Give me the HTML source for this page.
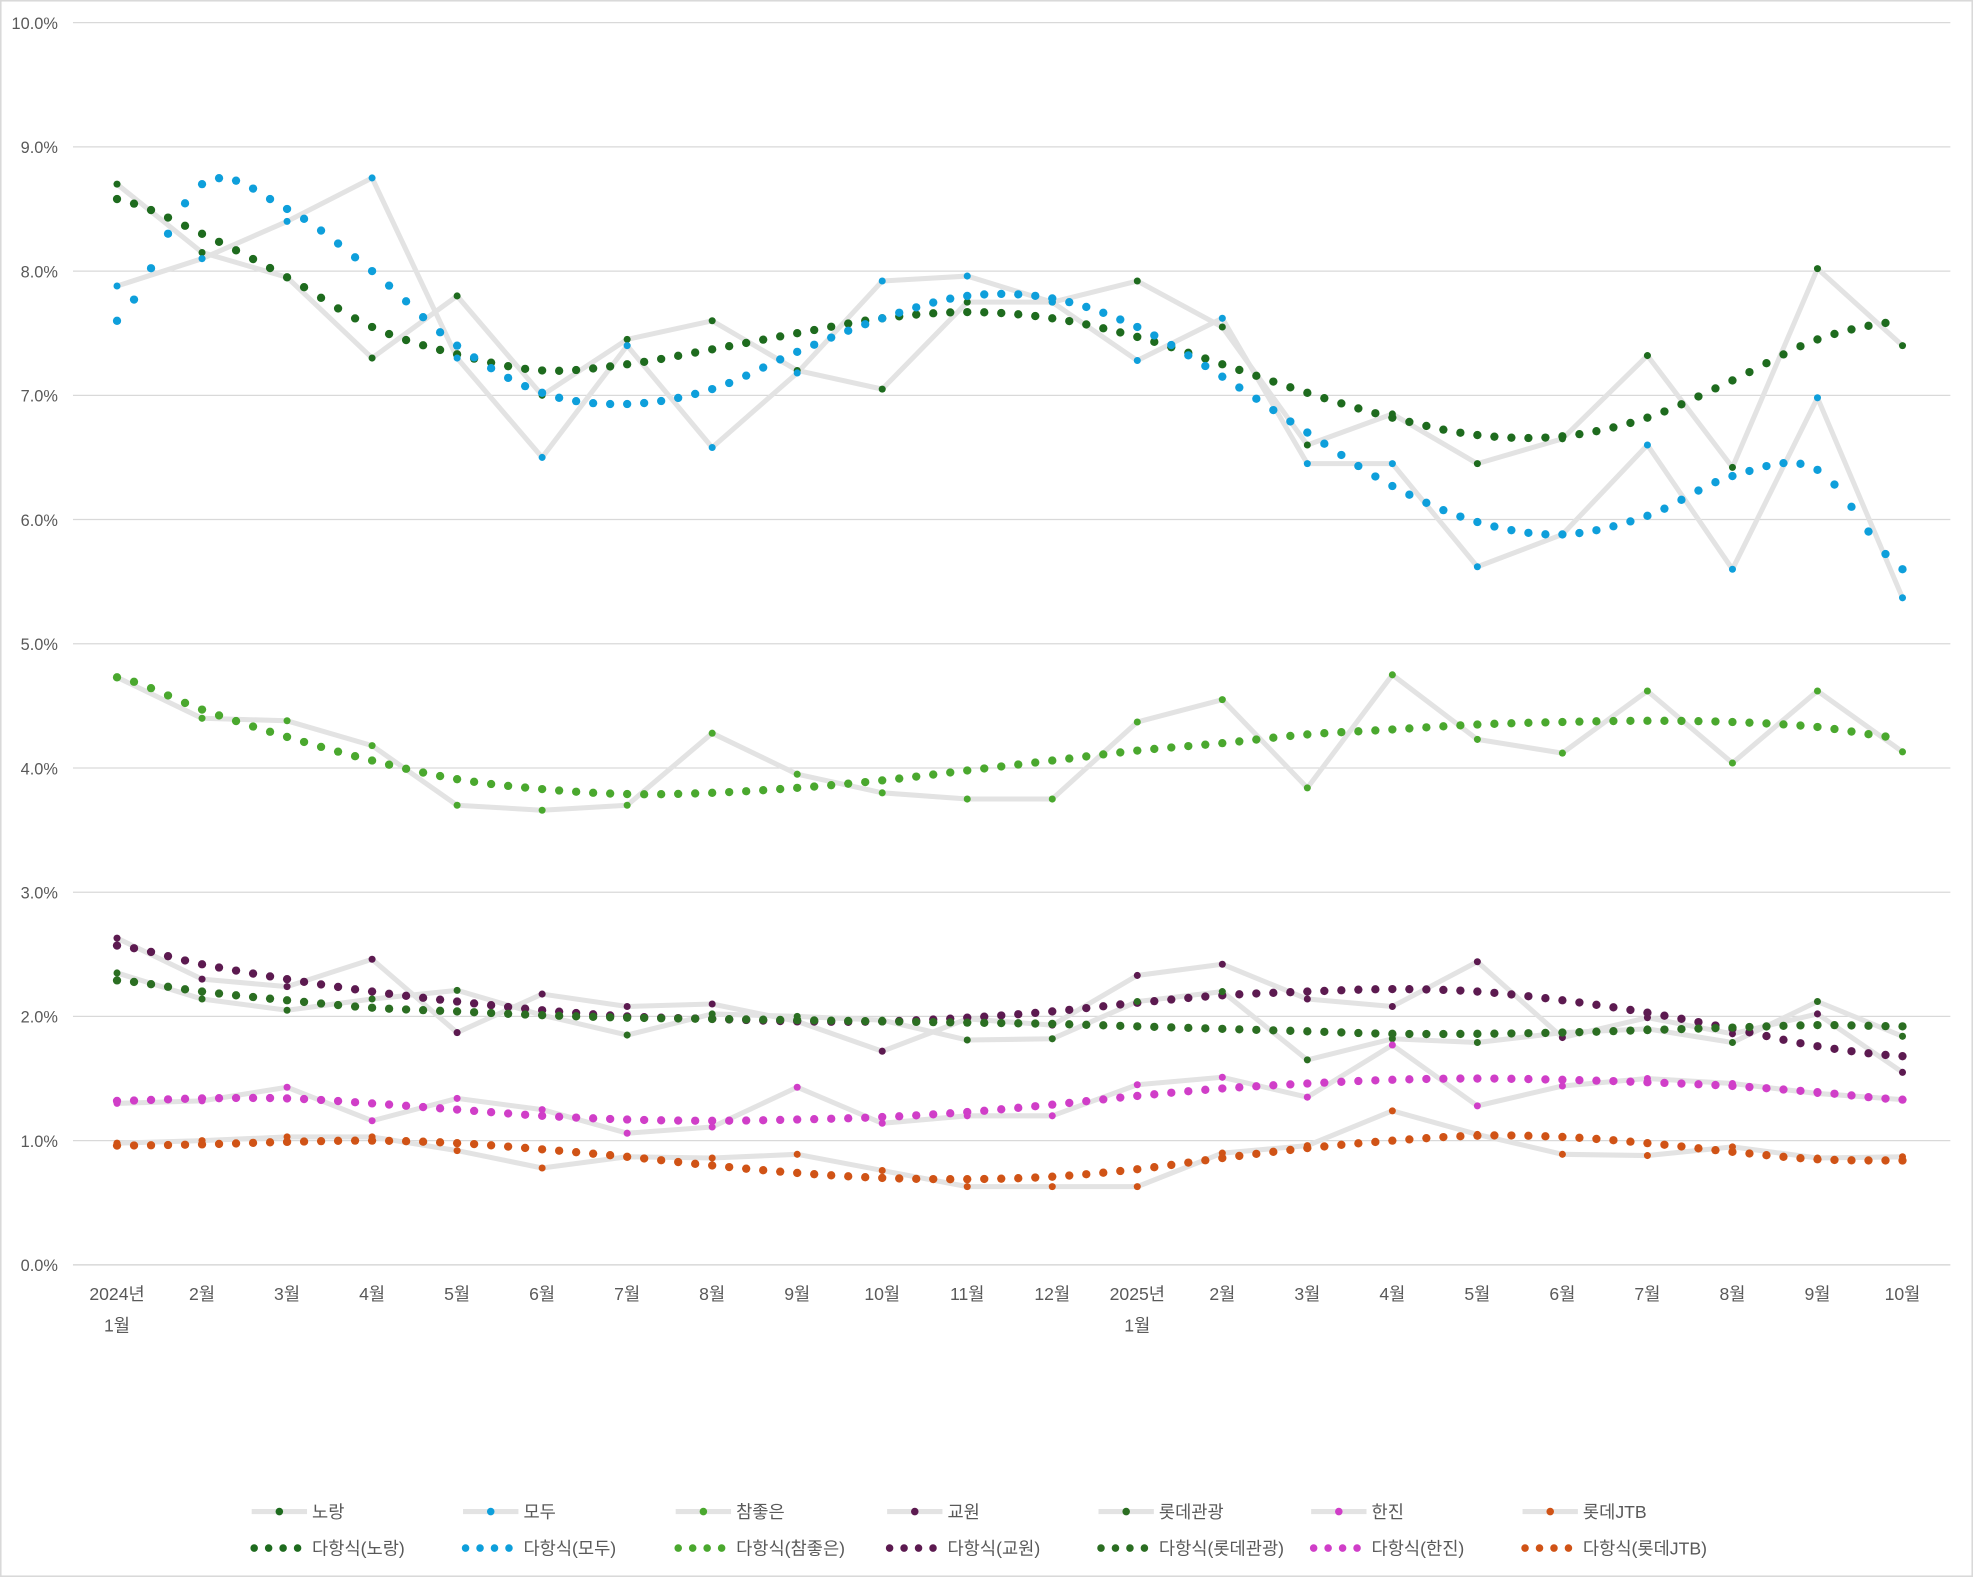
<!DOCTYPE html>
<html><head><meta charset="utf-8"><style>
html,body{margin:0;padding:0;background:#fff}
svg{display:block}
text{font-family:"Liberation Sans","Noto Sans CJK KR",sans-serif;fill:#595959}
</style></head><body>
<svg id="c" width="1973" height="1577" viewBox="0 0 1568 1253" preserveAspectRatio="none" xmlns="http://www.w3.org/2000/svg"></svg>
<script>
const S=document.getElementById('c');const NS='http://www.w3.org/2000/svg';
function el(t,a,txt){const e=document.createElementNS(NS,t);for(const k in a)e.setAttribute(k,a[k]);if(txt!=null)e.textContent=txt;S.appendChild(e);return e;}
el('rect',{x:0.5,y:0.5,width:1567,height:1252,fill:'#fff',stroke:'#d9d9d9','stroke-width':1.5});
const Y=v=>1005-v*98.7, X=i=>93+i*67.57;
for(let i=0;i<=10;i++){el('line',{x1:58,x2:1550,y1:Y(i),y2:Y(i),stroke:i==0?'#d0d0d0':'#d9d9d9','stroke-width':1});
el('text',{x:46,y:Y(i)+5,'text-anchor':'end','font-size':13},i.toFixed(1)+'%');}
const ml=['2024년','2월','3월','4월','5월','6월','7월','8월','9월','10월','11월','12월','2025년','2월','3월','4월','5월','6월','7월','8월','9월','10월'];
ml.forEach((m,i)=>{el('text',{x:X(i),y:1033,'text-anchor':'middle','font-size':14},m);});
el('text',{x:X(0),y:1058,'text-anchor':'middle','font-size':14},'1월');
el('text',{x:X(12),y:1058,'text-anchor':'middle','font-size':14},'1월');
const D=[
['노랑','#1e6b1e',[8.7,8.15,7.95,7.3,7.8,7.0,7.45,7.6,7.2,7.05,7.75,7.75,7.92,7.55,6.6,6.85,6.45,6.65,7.32,6.42,8.02,7.4],
[8.58,8.3,7.95,7.55,7.33,7.2,7.25,7.37,7.5,7.62,7.67,7.62,7.47,7.25,7.02,6.82,6.68,6.67,6.82,7.12,7.45,7.6],20.8],
['모두','#0e9fdb',[7.88,8.1,8.4,8.75,7.3,6.5,7.4,6.58,7.18,7.92,7.96,7.75,7.28,7.62,6.45,6.45,5.62,5.88,6.6,5.6,6.98,5.37],
[7.6,8.7,8.5,8.0,7.4,7.02,6.93,7.05,7.35,7.62,7.8,7.78,7.55,7.15,6.7,6.27,5.98,5.88,6.03,6.35,6.4,5.6],21],
['참좋은','#4aa82e',[4.73,4.4,4.38,4.18,3.7,3.66,3.7,4.28,3.95,3.8,3.75,3.75,4.37,4.55,3.84,4.75,4.23,4.12,4.62,4.04,4.62,4.13],
[4.73,4.47,4.25,4.06,3.91,3.83,3.79,3.8,3.84,3.9,3.98,4.06,4.14,4.2,4.27,4.31,4.35,4.37,4.38,4.37,4.33,4.24],20.9],
['교원','#5c1a50',[2.63,2.3,2.24,2.46,1.87,2.18,2.08,2.1,1.96,1.72,1.98,1.93,2.33,2.42,2.14,2.08,2.44,1.83,1.99,1.86,2.02,1.55],
[2.57,2.42,2.3,2.2,2.12,2.05,2.0,1.98,1.96,1.96,1.99,2.04,2.11,2.17,2.2,2.22,2.2,2.13,2.03,1.9,1.76,1.68],21],
['롯데관광','#2b6e22',[2.35,2.14,2.05,2.14,2.21,2.01,1.85,2.02,2.0,1.97,1.81,1.82,2.12,2.2,1.65,1.82,1.79,1.87,1.9,1.79,2.12,1.84],
[2.29,2.2,2.13,2.07,2.04,2.01,1.99,1.98,1.97,1.96,1.95,1.94,1.92,1.9,1.88,1.86,1.86,1.87,1.89,1.91,1.93,1.92],21],
['한진','#d03ec8',[1.3,1.32,1.43,1.16,1.34,1.25,1.06,1.11,1.43,1.14,1.2,1.2,1.45,1.51,1.35,1.77,1.28,1.44,1.5,1.46,1.38,1.33],
[1.32,1.34,1.34,1.3,1.25,1.2,1.17,1.16,1.17,1.19,1.23,1.29,1.36,1.42,1.46,1.49,1.5,1.49,1.47,1.44,1.39,1.33],21],
['롯데JTB','#d05316',[0.98,1.0,1.03,1.03,0.92,0.78,0.87,0.86,0.89,0.76,0.63,0.63,0.63,0.9,0.96,1.24,1.05,0.89,0.88,0.95,0.86,0.87],
[0.96,0.97,0.99,1.0,0.98,0.93,0.87,0.8,0.74,0.7,0.69,0.71,0.77,0.86,0.94,1.0,1.04,1.03,0.98,0.91,0.85,0.84],21]];
D.forEach(d=>{el('polyline',{points:d[2].map((v,i)=>X(i)+','+Y(v)).join(' '),fill:'none',stroke:'#e3e3e3','stroke-width':4,'stroke-linejoin':'round'});});
function cr(a,t){const i=Math.min(Math.floor(t),a.length-2),f=t-i;const p0=a[Math.max(i-1,0)],p1=a[i],p2=a[i+1],p3=a[Math.min(i+2,a.length-1)];
return 0.5*((2*p1)+(-p0+p2)*f+(2*p0-5*p1+4*p2-p3)*f*f+(-p0+3*p1-3*p2+p3)*f*f*f);}
D.forEach(d=>{d[2].forEach((v,i)=>el('circle',{cx:X(i),cy:Y(v),r:2.8,fill:d[1]}));
const end=d[4];for(let t=0;t<=end+0.001;t+=0.2){el('circle',{cx:X(t),cy:Y(cr(d[3],t)),r:3.3,fill:d[1]});}});
const lx=[200,368,537,705,873,1042,1210];
D.forEach((d,k)=>{const x=lx[k];
el('line',{x1:x,x2:x+44,y1:1201,y2:1201,stroke:'#e3e3e3','stroke-width':4});
el('circle',{cx:x+22,cy:1201,r:3,fill:d[1]});
el('text',{x:x+48,y:1206,'font-size':14},d[0]);
for(let j=0;j<4;j++)el('circle',{cx:x+2+j*11.5,cy:1230,r:3,fill:d[1]});
el('text',{x:x+48,y:1235,'font-size':14},'다항식('+d[0]+')');});
</script>
</body></html>
